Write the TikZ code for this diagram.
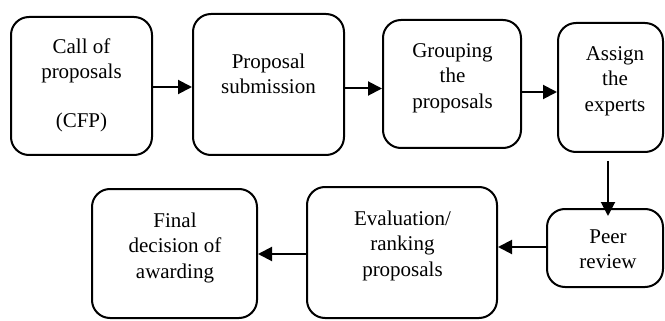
\documentclass[tikz,border=0pt]{standalone}
\usepackage{fontspec}
\setmainfont{Liberation Serif}
\newfontfamily\diagfont{Liberation Serif}
\usetikzlibrary{arrows.meta}
\begin{document}
\begin{tikzpicture}[x=1pt,y=-1pt,
  box/.style={draw=black,line width=2pt,rounded corners=18pt,inner sep=0pt},
  lbl/.style={anchor=north,align=center,inner sep=0pt,font=\diagfont\fontsize{21}{25.5}\selectfont},
  arr/.style={draw=black,line width=2pt,-{Triangle[length=14pt,width=14pt]}}]
\useasboundingbox (0,0) rectangle (665,321);
% boxes
\node[box,minimum width=141pt,minimum height=138pt] (b1) at (81.5,86) {};
\node[box,minimum width=151pt,minimum height=141pt] (b2) at (268.5,84.5) {};
\node[box,minimum width=138pt,minimum height=128pt] (b3) at (452,84) {};
\node[box,minimum width=105pt,minimum height=129pt] (b4) at (610.5,87.5) {};
\node[box,minimum width=116pt,minimum height=78pt] (b5) at (605,248) {};
\node[box,minimum width=190pt,minimum height=131pt] (b6) at (402,252.5) {};
\node[box,minimum width=165pt,minimum height=129pt] (b7) at (174.5,253.5) {};
% texts
\node[lbl] (t1) at (81.5,34) {\rule{0pt}{19pt}Call of\\proposals\\[23pt](CFP)};
\node[lbl] (t2) at (268.5,49) {\rule{0pt}{19pt}Proposal\\submission};
\node[lbl] (t3) at (452.5,38) {\rule{0pt}{19pt}Grouping\\the\\proposals};
\node[lbl] (t4) at (615,41) {\rule{0pt}{19pt}Assign\\the\\experts};
\node[lbl] (t5) at (608,224) {\rule{0pt}{19pt}Peer\\review};
\node[lbl] (t6) at (402.5,206) {\rule{0pt}{19pt}Evaluation/\\ranking\\proposals};
\node[lbl] (t7) at (175,208) {\rule{0pt}{19pt}Final\\decision of\\awarding};
% arrows
\draw[arr] ([yshift=-1pt]b1.east) -- ([yshift=-1pt]b1.east -| b2.west);
\draw[arr] ([yshift=-4pt]b2.east) -- ([yshift=-4pt]b2.east -| b3.west);
\draw[arr] ([yshift=-8pt]b3.east) -- ([yshift=-8pt]b3.east -| b4.west);
\draw[arr] ([xshift=-2.5pt,yshift=-8pt]b4.south) -- ([xshift=-2.5pt,yshift=-8pt]b4.south |- b5.north);
\draw[arr] ([yshift=1pt]b5.west) -- ([yshift=1pt]b5.west -| b6.east);
\draw[arr] ([yshift=-1.5pt]b6.west) -- ([yshift=-1.5pt]b6.west -| b7.east);
\end{tikzpicture}
\end{document}
